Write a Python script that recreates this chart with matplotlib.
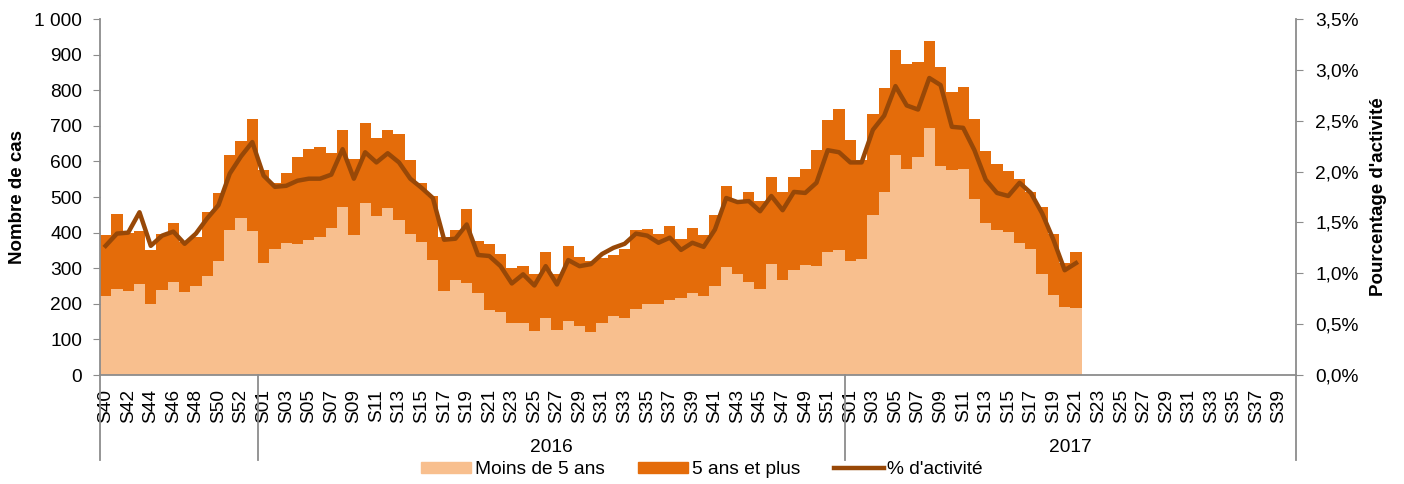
import numpy as np
import matplotlib
matplotlib.use('Agg')
import matplotlib.pyplot as plt
from matplotlib.patches import Patch
from matplotlib.lines import Line2D
from matplotlib.ticker import FuncFormatter
import matplotlib.transforms as mtransforms

plt.rcParams['font.family'] = ['Liberation Sans', 'DejaVu Sans']

# semaines : 2015 S40-S53, 2016 S01-S52, 2017 S01-S40
weeks_2015 = ['S%02d' % w for w in range(40, 54)]
weeks_2016 = ['S%02d' % w for w in range(1, 53)]
weeks_2017 = ['S%02d' % w for w in range(1, 41)]
weeks = weeks_2015 + weeks_2016 + weeks_2017

moins5 = [221, 241, 235, 257, 199, 238, 262, 232, 250, 277, 320, 406, 441, 404,
          315, 353, 370, 368, 379, 388, 413, 472, 393, 482, 446, 468, 436, 395,
          374, 323, 237, 266, 259, 230, 183, 176, 146, 147, 125, 161, 127, 152,
          139, 120, 145, 166, 160, 186, 200, 199, 212, 216, 230, 221, 250, 302,
          285, 261, 241, 312, 267, 294, 309, 305, 346, 350,
          321, 327, 450, 515, 617, 579, 612, 695, 588, 576, 579, 495, 427, 408,
          403, 372, 355, 284, 226, 190, 188]
plus5 = [171, 211, 165, 148, 153, 159, 165, 143, 139, 180, 192, 212, 217, 314,
         260, 187, 198, 243, 257, 253, 210, 216, 214, 227, 221, 219, 240, 208,
         166, 179, 152, 142, 206, 147, 185, 163, 155, 158, 159, 184, 157, 209,
         193, 199, 184, 172, 193, 221, 210, 197, 207, 167, 182, 172, 200, 229,
         201, 254, 248, 244, 248, 262, 269, 327, 369, 396,
         339, 277, 283, 290, 297, 295, 266, 244, 277, 218, 231, 223, 203, 184,
         171, 178, 158, 187, 170, 125, 157]
activite = [1.27, 1.39, 1.40, 1.60, 1.27, 1.37, 1.41, 1.29, 1.39, 1.54, 1.67, 1.98, 2.15, 2.29,
            1.96, 1.85, 1.86, 1.91, 1.93, 1.93, 1.97, 2.22, 1.93, 2.19, 2.09, 2.18, 2.09, 1.93,
            1.84, 1.74, 1.33, 1.34, 1.48, 1.18, 1.17, 1.07, 0.90, 0.99, 0.88, 1.07, 0.89, 1.13,
            1.07, 1.09, 1.19, 1.25, 1.29, 1.39, 1.37, 1.30, 1.35, 1.23, 1.30, 1.26, 1.43, 1.74,
            1.70, 1.71, 1.61, 1.76, 1.62, 1.80, 1.79, 1.89, 2.21, 2.19,
            2.09, 2.09, 2.41, 2.55, 2.84, 2.65, 2.61, 2.92, 2.85, 2.44, 2.43, 2.21, 1.92, 1.79,
            1.76, 1.89, 1.79, 1.59, 1.33, 1.03, 1.10]

years = ['', '2016', '2017']

c_light = '#F8BF8E'
c_dark = '#E46C0A'
c_line = '#984807'
c_axis = '#8C8C8C'
fs = 13.8

n = len(weeks)
x = np.arange(n)
xd = np.arange(len(moins5))

fig = plt.figure(figsize=(14.04, 4.84), dpi=100)
ax = fig.add_axes([100/1404, 1-375/484, 1196/1404, 356/484])

ax.bar(xd, moins5, width=1.0, color=c_light, linewidth=0)
ax.bar(xd, plus5, width=1.0, bottom=moins5, color=c_dark, linewidth=0)

ax.set_xlim(-0.5, n-0.5)
ax.set_ylim(0, 1000)
ax.set_yticks(np.arange(0, 1001, 100))
ax.yaxis.set_major_formatter(FuncFormatter(lambda v, p: '{:,.0f}'.format(v).replace(',', ' ')))
ax.set_xticks(x[::2])
ax.set_xticklabels(weeks[::2], rotation=90, fontsize=fs)
ax.tick_params(axis='x', length=0, pad=10)
ax.tick_params(axis='y', labelsize=fs, length=5, color=c_axis, direction='out', pad=8)
ax.set_ylabel('Nombre de cas', fontsize=13.5, fontweight='bold', labelpad=6)

for s in ['top', 'right']:
    ax.spines[s].set_visible(False)
for s in ['left', 'bottom']:
    ax.spines[s].set_color(c_axis)
    ax.spines[s].set_linewidth(1.3)

# separateurs des annees et libelles
trans = mtransforms.blended_transform_factory(ax.transData, ax.transAxes)
bounds = [-0.5, len(weeks_2015)-0.5, len(weeks_2015)+len(weeks_2016)-0.5, n-0.5]
for b in bounds:
    ax.plot([b, b], [0, -0.24], transform=trans, color=c_axis, lw=1.3, clip_on=False)
for i, yr in enumerate(years):
    ax.text((bounds[i]+bounds[i+1])/2, -0.205, yr, transform=trans,
            ha='center', va='center', fontsize=fs)

ax2 = ax.twinx()
ax2.plot(xd, activite, color=c_line, lw=3.2, solid_joinstyle='round')
ax2.set_ylim(0, 3.5)
ax2.set_yticks(np.arange(0, 3.51, 0.5))
ax2.yaxis.set_major_formatter(FuncFormatter(lambda v, p: ('%.1f%%' % v).replace('.', ',')))
ax2.tick_params(axis='y', labelsize=fs, length=5, color=c_axis, direction='out', pad=9)
ax2.set_ylabel("Pourcentage d'activité", fontsize=13.5, fontweight='bold', labelpad=8)
for s in ['top', 'left', 'bottom']:
    ax2.spines[s].set_visible(False)
ax2.spines['right'].set_color(c_axis)
ax2.spines['right'].set_linewidth(1.3)

handles = [Patch(color=c_light, label='Moins de 5 ans'),
           Patch(color=c_dark, label='5 ans et plus'),
           Line2D([0], [0], color=c_line, lw=3.2, label="% d'activité")]
fig.legend(handles=handles, loc='center', bbox_to_anchor=(0.5, 1-470/484), ncol=3,
           frameon=False, fontsize=fs, handlelength=2.6, handleheight=0.5,
           columnspacing=1.75, handletextpad=0.2, borderpad=0)

fig.savefig('out.png', dpi=100)
